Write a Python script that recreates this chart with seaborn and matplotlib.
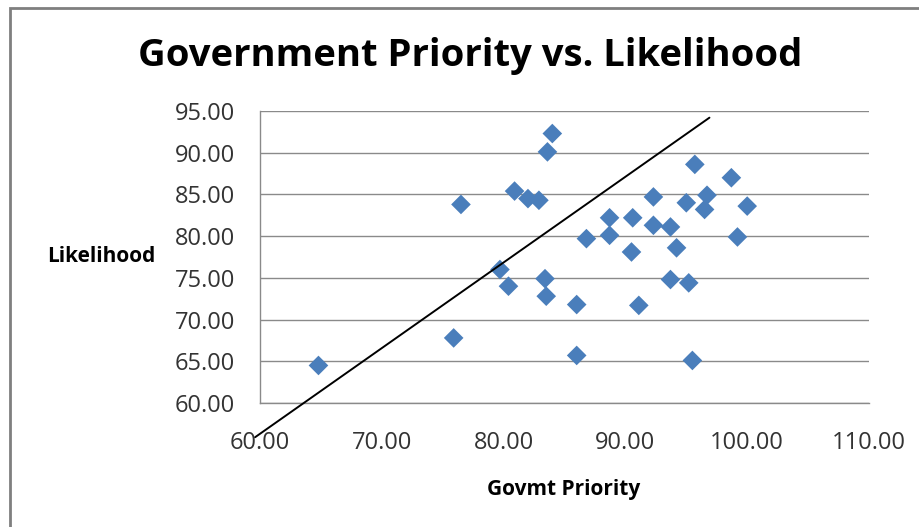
import matplotlib
matplotlib.use("Agg")
import matplotlib.pyplot as plt
import seaborn as sns
import pandas as pd
from matplotlib.patches import Rectangle

# values
govmt_priority = [64.8, 75.9, 76.5, 79.7, 80.4, 80.9, 82.0, 82.9, 84.0, 83.6,
                  83.4, 83.5, 86.0, 86.0, 86.8, 88.7, 88.7, 90.6, 90.5, 91.1,
                  92.3, 92.3, 93.7, 94.2, 93.7, 95.0, 95.2, 95.7, 96.5, 96.7,
                  95.5, 98.7, 99.2, 100.0]
likelihood = [64.5, 67.8, 83.8, 76.0, 74.0, 85.4, 84.5, 84.3, 92.3, 90.1,
              74.9, 72.8, 71.8, 65.7, 79.7, 82.2, 80.1, 82.2, 78.1, 71.7,
              84.7, 81.3, 81.1, 78.6, 74.8, 84.0, 74.4, 88.6, 83.2, 84.9,
              65.1, 87.0, 79.9, 83.6]

# hand-drawn straight line over the chart
line_x = [59.6, 96.9]
line_y = [55.9, 94.2]

x_ticks = [60, 70, 80, 90, 100, 110]
y_ticks = [60, 65, 70, 75, 80, 85, 90, 95]

df = pd.DataFrame({"Govmt Priority": govmt_priority, "Likelihood": likelihood})

sns.set_style("white")
plt.rcParams["font.family"] = ["Open Sans", "DejaVu Sans"]

fig = plt.figure(figsize=(9.19, 5.27), dpi=100)
ax = fig.add_axes([260 / 919, 124 / 527, 609 / 919, 292 / 527])

grid_col = "#8a8a8a"
for yv in y_ticks:
    ax.axhline(yv, color=grid_col, lw=1.0, zorder=0)

sns.scatterplot(data=df, x="Govmt Priority", y="Likelihood", marker="D",
                s=100, color="#4A7EBB", edgecolor="none", ax=ax, zorder=3)

ax.plot(line_x, line_y, color="black", lw=1.4, clip_on=False, zorder=4)

ax.set_xlim(60, 110)
ax.set_ylim(60, 95)
ax.set_xticks(x_ticks)
ax.set_yticks(y_ticks)
ax.set_xticklabels([f"{v:.2f}" for v in x_ticks])
ax.set_yticklabels([f"{v:.2f}" for v in y_ticks])
ax.tick_params(axis="both", direction="out", length=6, width=1, color=grid_col,
               labelsize=17, labelcolor="#333333")
ax.tick_params(axis="y", pad=12)
ax.tick_params(axis="x", pad=14)
ax.set_xlabel("")
ax.set_ylabel("")

for side in ["top", "right"]:
    ax.spines[side].set_visible(False)
for side in ["left", "bottom"]:
    ax.spines[side].set_color(grid_col)
    ax.spines[side].set_linewidth(1.0)

fig.text(470 / 919, 1 - 56 / 527, "Government Priority vs. Likelihood",
         ha="center", va="center", fontsize=27.5, fontweight="bold", color="black")
fig.text(101 / 919, 1 - 257 / 527, "Likelihood", ha="center", va="center",
         fontsize=15, fontweight="bold", color="black")
fig.text(564 / 919, 1 - 490 / 527, "Govmt Priority", ha="center", va="center",
         fontsize=15, fontweight="bold", color="black")

# chart frame (only left and top edges fall inside the picture)
fig.patches.append(Rectangle((10 / 919, -0.1), 1.2, 1 - 8 / 527 + 0.1,
                             transform=fig.transFigure, fill=False,
                             edgecolor="#7f7f7f", lw=2.0))

fig.savefig("out.png", dpi=100)
